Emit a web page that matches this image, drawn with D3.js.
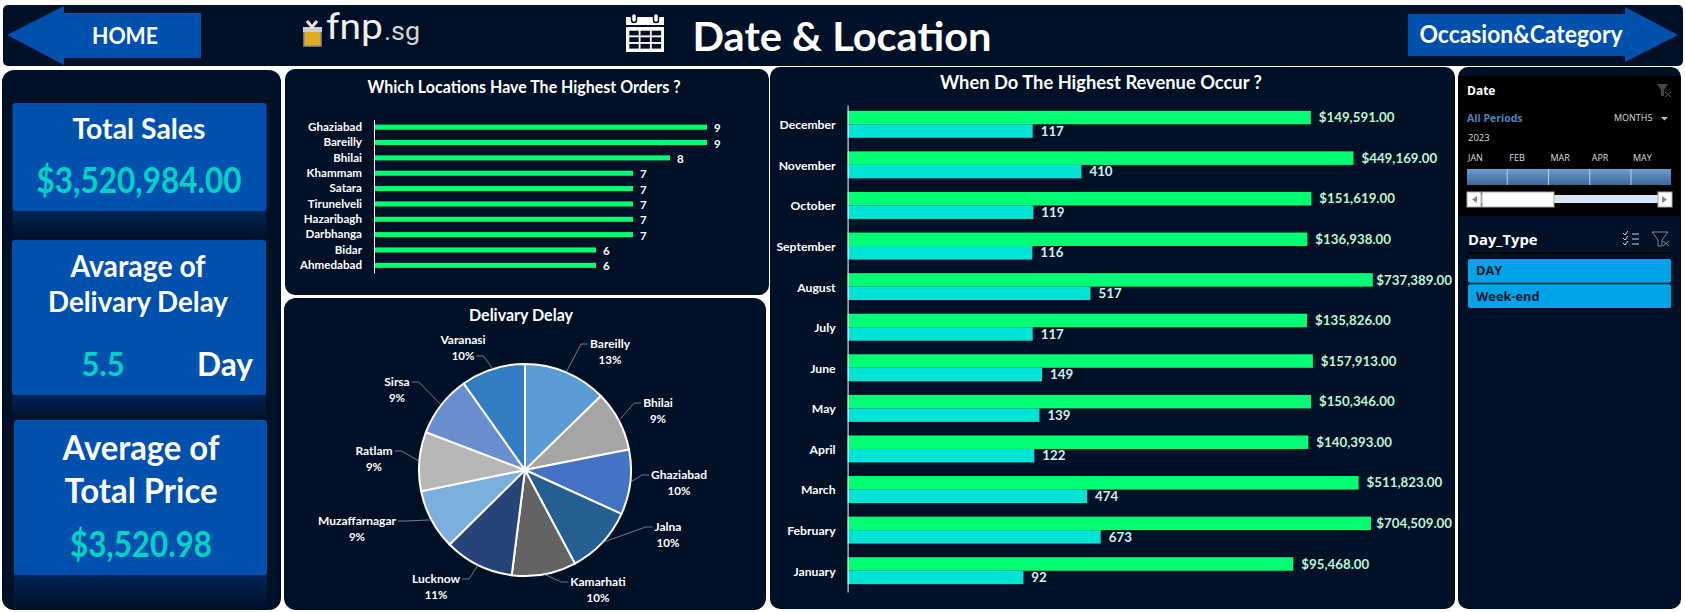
<!DOCTYPE html>
<html>
<head>
<meta charset="utf-8">
<title>Date &amp; Location</title>
<script src="https://cdn.jsdelivr.net/npm/d3@7"></script>
<style>
  html, body { margin: 0; padding: 0; background: #fff; }
  svg { display: block; }
  text { font-family: Lato, "Noto Sans", sans-serif; font-weight: 700; }
</style>
</head>
<body>
<svg id="board" width="1685" height="612"></svg>
<script>
// Orders by location
const orderCities = ["Ghaziabad","Bareilly","Bhilai","Khammam","Satara","Tirunelveli","Hazaribagh","Darbhanga","Bidar","Ahmedabad"];
const orderCounts = [9,9,8,7,7,7,7,7,6,6];

// Monthly revenue and order counts, latest month first
const months = ["December","November","October","September","August","July","June","May","April","March","February","January"];
const monthRevenue = [149591,449169,151619,136938,737389,135826,157913,150346,140393,511823,704509,95468];
const monthOrders = [117,410,119,116,517,117,149,139,122,474,673,92];

// Delivery delay share by city
const delayCities = ["Bareilly","Bhilai","Ghaziabad","Jalna","Kamarhati","Lucknow","Muzaffarnagar","Ratlam","Sirsa","Varanasi"];
const delayShares = [12.7,9.2,9.9,10.4,9.8,10.6,9.2,9.0,9.4,9.8];
const delayColors = ["#5B9BD5","#A5A5A5","#4472C4","#255E91","#636363","#264478","#7CAFDD","#B7B7B7","#698ED0","#327DC2"];

// Slicer contents
const timelineMonths = ["JAN","FEB","MAR","APR","MAY"];
const dayTypes = ["DAY","Week-end"];

const NAVY = "#001026", BLUE = "#0050AE", GREEN = "#00FF73", TEAL = "#00E3D5", AQUA = "#00D2C6";
const svg = d3.select("#board");
const defs = svg.append("defs");

function fade(id, stops) {
  const g = defs.append("linearGradient").attr("id", id).attr("x1", 0).attr("x2", 0).attr("y1", 0).attr("y2", 1);
  stops.forEach(([o, c]) => g.append("stop").attr("offset", o).attr("stop-color", c));
}
fade("mirror", [[0, "#00275e"], [1, NAVY]]);
fade("band", [[0, "#6b9ed0"], [1, "#3c6899"]]);

function panel(x, y, w, h, r) {
  svg.append("rect").attr("x", x).attr("y", y).attr("width", w).attr("height", h).attr("rx", r).attr("fill", NAVY);
}
// Text helper; the optional width condenses the glyphs to a fixed run length
function label(parent, x, y, str, size, fill, anchor, width) {
  const t = parent.append("text").attr("x", x).attr("y", y).attr("dy", "0.35em")
    .attr("font-size", size).attr("fill", fill || "#fff").attr("text-anchor", anchor || "middle").text(str);
  if (width) t.attr("textLength", width).attr("lengthAdjust", "spacingAndGlyphs");
  return t;
}

// Panels
panel(3, 5, 1680, 61, 5);
panel(2, 70, 279, 540, 12);
panel(285, 69, 484, 226, 10);
panel(284, 298, 482, 312, 12);
panel(770, 67, 685, 542, 10);
panel(1458, 67, 223, 542, 10);

// Header arrows and title
svg.append("path").attr("fill", BLUE).attr("d", d3.line()([[7,35],[64,6],[64,13],[201,13],[201,58],[64,58],[64,65]]) + "Z");
svg.append("path").attr("fill", BLUE).attr("d", d3.line()([[1408,14],[1625,14],[1625,7],[1678,35],[1625,62],[1625,56],[1408,56]]) + "Z");
label(svg, 125, 36, "HOME", 23, "#fff", "middle", 66);
label(svg, 1521, 35, "Occasion&Category", 24, "#fff", "middle", 203);
label(svg, 842, 37, "Date & Location", 41, "#fff", "middle", 299);

// Logo
const logo = svg.append("g");
logo.append("rect").attr("x", 304).attr("y", 31).attr("width", 17).attr("height", 15).attr("fill", "#e0ab22").attr("stroke", "#8e8e8e").attr("stroke-width", 1.5);
logo.append("rect").attr("x", 303).attr("y", 27).attr("width", 19).attr("height", 5).attr("fill", "#cfcfcf");
logo.append("path").attr("d", "M307 21l5 6 5-6").attr("fill", "none").attr("stroke", "#e4e4e4").attr("stroke-width", 3);
logo.append("text").attr("x", 326).attr("y", 39).attr("font-size", 35).attr("fill", "#f0f0f0").attr("textLength", 57).attr("lengthAdjust", "spacingAndGlyphs").style("font-family", "Roboto").style("font-weight", 400).text("fnp");
logo.append("text").attr("x", 384).attr("y", 40).attr("font-size", 26).attr("fill", "#d4d4d4").attr("textLength", 36).attr("lengthAdjust", "spacingAndGlyphs").style("font-family", "Roboto").style("font-weight", 400).text(".sg");

// Calendar glyph: binding rings, header strip and a 3×3 grid of days
const cal = svg.append("g");
cal.append("rect").attr("x", 626).attr("y", 17).attr("width", 38).attr("height", 8).attr("fill", "#fff");
[634, 656].forEach(x => cal.append("rect").attr("x", x - 2.5).attr("y", 13.5).attr("width", 5).attr("height", 9).attr("rx", 2.5).attr("fill", "#fff").attr("stroke", NAVY).attr("stroke-width", 1.5));
cal.append("rect").attr("x", 626).attr("y", 27).attr("width", 38).attr("height", 25).attr("fill", "#fff");
d3.range(3).forEach(r => d3.range(3).forEach(c =>
  cal.append("rect").attr("x", 629.3 + c * 11.2).attr("y", 30.7 + r * 6.6).attr("width", 9.4).attr("height", 4.7).attr("fill", NAVY)));

// KPI cards with their mirrored fade underneath
[[12.5, 103, 254, 108, 29], [12, 240, 254, 155, 25], [14, 420, 253, 155, 35]].forEach(([x, y, w, h, m]) => {
  svg.append("rect").attr("x", x).attr("y", y + h - 4).attr("width", w).attr("height", m + 4).attr("fill", "url(#mirror)");
  svg.append("rect").attr("x", x).attr("y", y).attr("width", w).attr("height", h).attr("rx", 3).attr("fill", BLUE);
});
label(svg, 139, 129, "Total Sales", 29, "#fff", "middle", 133);
label(svg, 139, 180, "$3,520,984.00", 37, AQUA, "middle", 205);
label(svg, 138, 266, "Avarage of", 30, "#fff", "middle", 135);
label(svg, 138, 302, "Delivary Delay", 29, "#fff", "middle", 180);
label(svg, 103, 364, "5.5", 33, AQUA, "middle", 43);
label(svg, 225, 364, "Day", 33, "#fff", "middle", 56);
label(svg, 141, 448, "Average of", 34, "#fff", "middle", 157);
label(svg, 141, 491, "Total Price", 34, "#fff", "middle", 153);
label(svg, 141, 544, "$3,520.98", 36, AQUA, "middle", 142);

// Orders by location
label(svg, 524, 87, "Which Locations Have The Highest Orders ?", 16.5, "#fff", "middle", 313);
const ordersX = d3.scaleLinear().domain([0, 9]).range([374, 707]);
const ordersY = d3.scaleBand().domain(orderCities).range([119.5, 273]).paddingInner(0.67).paddingOuter(0.335);
const orders = svg.append("g");
orders.selectAll("rect").data(orderCounts).join("rect")
  .attr("x", ordersX(0)).attr("y", (d, i) => ordersY(orderCities[i]))
  .attr("width", d => ordersX(d) - ordersX(0)).attr("height", ordersY.bandwidth()).attr("fill", GREEN);
orders.append("g").attr("transform", `translate(${ordersX(0)},0)`)
  .call(d3.axisLeft(ordersY).tickSize(0).tickPadding(12))
  .call(g => g.select(".domain").attr("stroke", "#fff"))
  .call(g => g.selectAll("text").attr("font-size", 11.6).attr("fill", "#fff").style("font-family", "Lato").style("font-weight", 700));
orderCounts.forEach((d, i) => label(orders, ordersX(d) + 7, ordersY(orderCities[i]) + ordersY.bandwidth() / 2 + 1, d, 11.5, "#fff", "start"));

// Monthly revenue, log scale since the two measures differ by orders of magnitude
label(svg, 1101, 83, "When Do The Highest Revenue Occur ?", 18.5, "#fff", "middle", 322);
const revX = d3.scaleLog().domain([1, 1e6]).range([847.6, 847.6 + 89.5 * 6]);
const revY = d3.scaleBand().domain(months).range([104, 591]).paddingInner(0.335).paddingOuter(0.1675);
const revSeries = d3.scaleBand().domain(["revenue", "orders"]).range([0, revY.bandwidth()]);
const revenue = svg.append("g");
const fmtUsd = d3.format("$,.2f");
const revLabelLimit = 1452;
[[monthRevenue, "revenue", GREEN, "#b9f5d2", fmtUsd], [monthOrders, "orders", TEAL, "#cdeff0", String]].forEach(([vals, key, col, txt, fmt]) => {
  revenue.append("g").selectAll("rect").data(vals).join("rect")
    .attr("x", revX(1)).attr("y", (d, i) => revY(months[i]) + revSeries(key))
    .attr("width", d => revX(d) - revX(1)).attr("height", revSeries.bandwidth()).attr("fill", col);
  vals.forEach((d, i) => {
    const t = label(revenue, revX(d) + 8, revY(months[i]) + revSeries(key) + revSeries.bandwidth() / 2, fmt(d), 13.3, txt, "start");
    // Labels near the panel edge slide back so they stay inside it
    const x = Math.min(revX(d) + 8, revLabelLimit - t.node().getComputedTextLength());
    t.attr("x", x);
  });
});
revenue.append("g").attr("transform", `translate(${revX(1)},1)`)
  .call(d3.axisLeft(revY).tickSize(0).tickPadding(12))
  .call(g => g.select(".domain").attr("stroke", "#fff"))
  .call(g => g.selectAll("text").attr("font-size", 12.2).attr("fill", "#fff").style("font-family", "Lato").style("font-weight", 700));

// Delivery delay pie
label(svg, 521, 315, "Delivary Delay", 16.3, "#fff", "middle", 104);
const pieCx = 525, pieCy = 470, pieR = 106;
const pieG = svg.append("g").attr("transform", `translate(${pieCx},${pieCy})`);
const arcs = d3.pie().sort(null)(delayShares);
const arc = d3.arc().innerRadius(0).outerRadius(pieR);
pieG.selectAll("path").data(arcs).join("path").attr("d", arc)
  .attr("fill", (d, i) => delayColors[i]).attr("stroke", "#fff").attr("stroke-width", 2);

// Hand-placed label centres around the pie, relative to its centre
const pieLabelSpots = [[85,-126],[133,-67],[154,5],[143,57],[73,112],[-89,109],[-168,51],[-151,-19],[-128,-88],[-62,-130]];
const fmtPct = v => Math.round(v) + "%";
const edge = d3.arc().innerRadius(pieR).outerRadius(pieR);
arcs.forEach((d, i) => {
  const [lx, ly] = pieLabelSpots[i];
  const name = label(pieG, lx, ly, delayCities[i], 12);
  const pct = label(pieG, lx, ly + 16, fmtPct(delayShares[i]), 11.5);
  const start = edge.centroid(d);
  const usePct = delayCities[i] === "Varanasi";
  const ref = usePct ? pct : name;
  const half = ref.node().getComputedTextLength() / 2;
  const y = usePct ? ly + 16 : ly;
  const side = lx > 0 ? -1 : 1;
  const stubEnd = lx + side * (half + 2), stubStart = stubEnd + side * 7;
  pieG.append("path").attr("fill", "none").attr("stroke", "#8c94a0").attr("stroke-width", 0.8)
    .attr("d", d3.line()([start, [stubStart, y], [stubEnd, y]]));
});

// Date timeline slicer
const slicer = svg.append("g");
slicer.append("rect").attr("x", 1458).attr("y", 76).attr("width", 222).attr("height", 140).attr("fill", "#000");
const small = (x, y, str, size, fill, weight) => slicer.append("text").attr("x", x).attr("y", y).attr("dy", "0.35em")
  .attr("font-size", size).attr("fill", fill).style("font-family", "Open Sans").style("font-weight", weight || 400).text(str);
small(1467, 91, "Date", 12, "#fff", 700);
small(1467, 118, "All Periods", 10.5, "#4f81bd", 700);
small(1614, 118, "MONTHS", 9, "#ddd");
slicer.append("path").attr("d", "M1661 117h7l-3.5 3.5z").attr("fill", "#bbb");
small(1468, 138, "2023", 9.5, "#ddd");
const tlX = d3.scalePoint().domain(timelineMonths).range([1468, 1633]);
timelineMonths.forEach(m => small(tlX(m), 158, m, 9, "#ddd"));
slicer.append("rect").attr("x", 1467).attr("y", 169).attr("width", 204).attr("height", 16).attr("fill", "url(#band)");
timelineMonths.slice(1).forEach(m => slicer.append("line").attr("x1", tlX(m) - 2).attr("x2", tlX(m) - 2).attr("y1", 169).attr("y2", 185).attr("stroke", "#b9cfe6"));
slicer.append("rect").attr("x", 1481).attr("y", 195).attr("width", 178).attr("height", 8).attr("fill", "#d6e6f3");
slicer.append("rect").attr("x", 1482).attr("y", 192).attr("width", 72).attr("height", 15).attr("fill", "#fff").attr("stroke", "#aaa");
[[1467, "M1477 196v7l-5-3.5z"], [1658, "M1662 196v7l5-3.5z"]].forEach(([x, d]) => {
  slicer.append("rect").attr("x", x).attr("y", 192).attr("width", 14).attr("height", 15).attr("fill", "#fff").attr("stroke", "#aaa");
  slicer.append("path").attr("d", d).attr("fill", "#888");
});
// Faded clear-filter glyph in the date slicer
slicer.append("path").attr("d", "M1657 84h11l-4 6v6h-3v-6z").attr("fill", "#444");
slicer.append("path").attr("d", "M1665 92l6 5M1671 92l-6 5").attr("stroke", "#555").attr("stroke-width", 1);

// Day type slicer
small(1468, 240, "Day_Type", 14.8, "#fff", 700);
slicer.append("path").attr("d", "M1632 234h7M1632 239h7M1632 244h7M1623 233l2 2 3-4M1623 238l2 2 3-4M1623 243l2 2 3-4")
  .attr("fill", "none").attr("stroke", "#cfd6de").attr("stroke-width", 1);
slicer.append("path").attr("d", "M1652 232h16l-6 8v6h-4v-6z").attr("fill", "none").attr("stroke", "#7d8793");
slicer.append("path").attr("d", "M1663 241l6 5M1669 241l-6 5").attr("stroke", "#7d8793");
slicer.append("line").attr("x1", 1468).attr("x2", 1671).attr("y1", 253).attr("y2", 253).attr("stroke", "#000").attr("stroke-width", 1.5);
const typeY = d3.scaleBand().domain(dayTypes).range([259, 308]).paddingInner(0.06);
dayTypes.forEach(t => {
  slicer.append("rect").attr("x", 1468).attr("y", typeY(t)).attr("width", 203).attr("height", typeY.bandwidth()).attr("rx", 2).attr("fill", "#00A2E8");
  small(1476, typeY(t) + typeY.bandwidth() / 2, t, 12.8, "#00162e", 700);
});
</script>
</body>
</html>
